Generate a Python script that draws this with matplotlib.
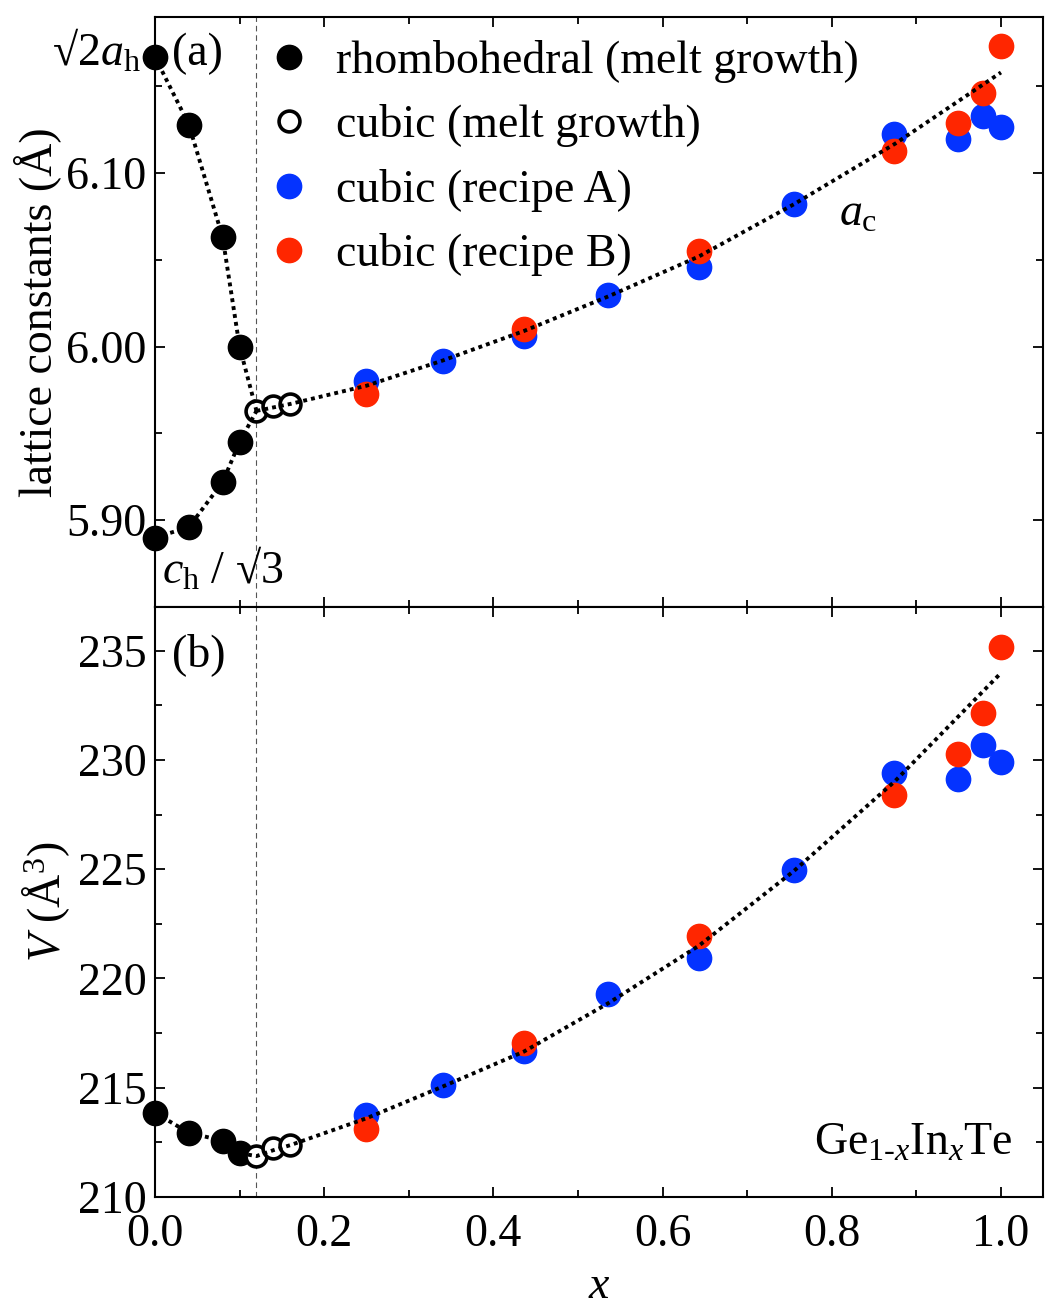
import matplotlib

matplotlib.use("Agg")
import matplotlib.pyplot as plt
from matplotlib.ticker import MultipleLocator, FormatStrFormatter

# ---- data --------------------------------------------------------------------
x_rh = [0.0, 0.04, 0.08, 0.10]
a_rh_upper = [6.167, 6.128, 6.063, 6.000]      # sqrt(2) a_h
a_rh_lower = [5.890, 5.896, 5.922, 5.945]      # c_h / sqrt(3)
V_rh = [213.85, 212.94, 212.57, 212.00]

x_melt = [0.12, 0.14, 0.16]
a_melt = [5.963, 5.966, 5.967]
V_melt = [211.87, 212.22, 212.37]

x_A = [0.25, 0.34, 0.436, 0.536, 0.643, 0.755, 0.874, 0.949, 0.979, 1.0]
a_A = [5.980, 5.992, 6.006, 6.030, 6.046, 6.082, 6.1225, 6.1196, 6.133, 6.1263]
V_A = [213.75, 215.12, 216.70, 219.28, 220.94, 224.95, 229.42, 229.12, 230.69, 229.90]

x_B = [0.25, 0.436, 0.643, 0.874, 0.949, 0.979, 1.0]
a_B = [5.973, 6.010, 6.055, 6.113, 6.129, 6.146, 6.173]
V_B = [213.09, 217.04, 221.93, 228.40, 230.27, 232.17, 235.16]

# dotted guide curves
guide_a_x = [0.12, 0.16, 0.25, 0.34, 0.436, 0.536, 0.643, 0.755, 0.875, 1.0]
guide_a_y = [5.963, 5.967, 5.9775, 5.992, 6.009, 6.029, 6.052, 6.082, 6.117, 6.158]
guide_V_x = [0.0, 0.04, 0.08, 0.10, 0.12, 0.14, 0.16, 0.25, 0.34, 0.436,
             0.536, 0.643, 0.755, 0.875, 1.0]
guide_V_y = [213.85, 212.94, 212.57, 212.00, 211.87, 212.14, 212.37, 213.6,
             215.05, 216.65, 218.87, 221.5, 224.91, 229.04, 233.98]

x_boundary = 0.12

BLUE = "#0433FF"
RED = "#FF2600"
FS = 33

plt.rcParams["font.family"] = ["Liberation Serif", "DejaVu Serif"]
plt.rcParams["mathtext.fontset"] = "custom"
plt.rcParams["mathtext.rm"] = "Liberation Serif"
plt.rcParams["mathtext.it"] = "Liberation Serif:italic"
plt.rcParams["font.size"] = FS

fig = plt.figure(figsize=(10.6, 13.13), dpi=100)
ax1 = fig.add_axes([0.1462, 0.5377, 0.838, 0.4494])
ax2 = fig.add_axes([0.1462, 0.0884, 0.838, 0.4493])

MS = 17.5
dot_kw = dict(color="black", lw=2.8, dashes=(1, 1.05), dash_capstyle="butt", zorder=5)
open_kw = dict(mfc="white", mec="black", ms=MS - 2.5, mew=2.6, zorder=3)


def style(ax):
    ax.tick_params(which="both", direction="in", top=True, right=True, width=1.3)
    ax.tick_params(which="major", length=7.5, pad=6)
    ax.tick_params(which="minor", length=5)
    ax.tick_params(axis="x", pad=12)
    for sp in ax.spines.values():
        sp.set_linewidth(1.5)
    ax.xaxis.set_major_locator(MultipleLocator(0.2))
    ax.xaxis.set_minor_locator(MultipleLocator(0.1))
    ax.set_xlim(0, 1.05)
    ax.axvline(x_boundary, color="#555555", lw=0.8, dashes=(5, 3.5), zorder=1)


# ---- (a) lattice constants ---------------------------------------------------
style(ax1)
ax1.plot(x_rh + [x_melt[0]], a_rh_upper + [a_melt[0]], **dot_kw)
ax1.plot(x_rh + [x_melt[0]], a_rh_lower + [a_melt[0]], **dot_kw)
ax1.plot(guide_a_x, guide_a_y, **dot_kw)
ax1.plot(x_rh, a_rh_upper, "o", color="black", ms=MS, zorder=3,
         label="rhombohedral (melt growth)", clip_on=False)
ax1.plot(x_rh, a_rh_lower, "o", color="black", ms=MS, zorder=3, clip_on=False)
ax1.plot(x_melt, a_melt, "o", label="cubic (melt growth)", **open_kw)
ax1.plot(x_A, a_A, "o", color=BLUE, ms=MS, zorder=3, label="cubic (recipe A)")
ax1.plot(x_B, a_B, "o", color=RED, ms=MS, zorder=4, label="cubic (recipe B)")
ax1.set_ylim(5.85, 6.19)
ax1.yaxis.set_major_locator(MultipleLocator(0.1))
ax1.yaxis.set_minor_locator(MultipleLocator(0.05))
ax1.yaxis.set_major_formatter(FormatStrFormatter("%.2f"))
ax1.tick_params(labelbottom=False)
ax1.set_ylabel("lattice constants (Å)", labelpad=4)

ax1.legend(loc="upper left", bbox_to_anchor=(0.102, 1.0), frameon=False,
           handlelength=0.9, handletextpad=0.58, labelspacing=0.47,
           borderaxespad=0.1, fontsize=FS)

ax1.text(-0.016, 0.94, "√2$a_\\mathrm{h}$", transform=ax1.transAxes,
         ha="right", va="center")
ax1.text(0.019, 0.938, "(a)", transform=ax1.transAxes, ha="left", va="center")
ax1.text(0.008, 0.063, "$c_\\mathrm{h}$ / √3", transform=ax1.transAxes,
         ha="left", va="center")
ax1.text(0.77, 0.665, "$a_\\mathrm{c}$", transform=ax1.transAxes,
         ha="left", va="center")

# ---- (b) unit cell volume ----------------------------------------------------
style(ax2)
ax2.plot(guide_V_x, guide_V_y, **dot_kw)
ax2.plot(x_rh, V_rh, "o", color="black", ms=MS, zorder=3, clip_on=False)
ax2.plot(x_melt, V_melt, "o", **open_kw)
ax2.plot(x_A, V_A, "o", color=BLUE, ms=MS, zorder=3)
ax2.plot(x_B, V_B, "o", color=RED, ms=MS, zorder=4)
ax2.set_ylim(210, 237)
ax2.yaxis.set_major_locator(MultipleLocator(5))
ax2.yaxis.set_minor_locator(MultipleLocator(2.5))
ax2.xaxis.set_major_formatter(FormatStrFormatter("%.1f"))
ax2.set_ylabel("$V$ (Å$^3$)", labelpad=4)
ax2.set_xlabel("$x$", labelpad=6.5)

ax2.text(0.019, 0.92, "(b)", transform=ax2.transAxes, ha="left", va="center")
ax2.text(0.965, 0.09, "Ge$_{1\\text{-}x}$In$_x$Te", transform=ax2.transAxes,
         ha="right", va="center")

fig.savefig("out.png", dpi=100)
